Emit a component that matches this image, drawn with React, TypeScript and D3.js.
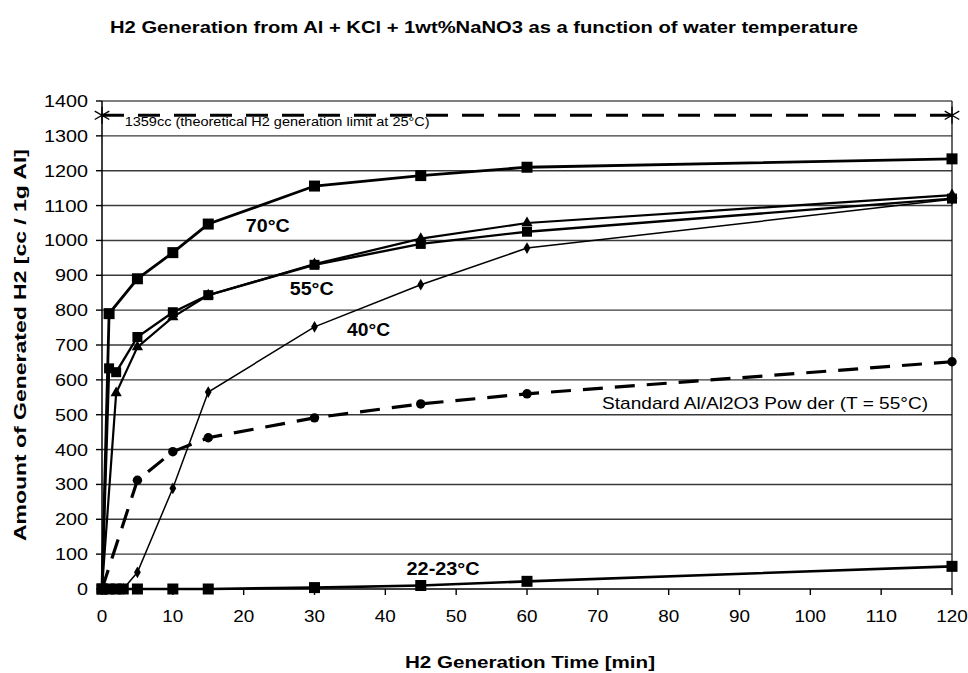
import React from "react";
import * as d3 from "d3";

const W = 968;
const H = 673;
const PL = 102, PR = 952, PT = 101, PB = 589;

const yTickValues = [0, 100, 200, 300, 400, 500, 600, 700, 800, 900, 1000, 1100, 1200, 1300, 1400];
const xTickValues = [0, 10, 20, 30, 40, 50, 60, 70, 80, 90, 100, 110, 120];

const title = "H2 Generation from Al + KCl + 1wt%NaNO3 as a function of water temperature";
const xTitle = "H2 Generation Time [min]";
const yTitle = "Amount of Generated H2 [cc / 1g Al]";

const t70 = [0, 1, 5, 10, 15, 30, 45, 60, 120];
const v70 = [0, 790, 890, 965, 1047, 1156, 1186, 1210, 1234];

const t55a = [0, 1, 2, 5, 10, 15, 30, 45, 60, 120];
const v55a = [0, 633, 622, 723, 794, 843, 930, 990, 1025, 1120];

const t55b = [0, 2, 5, 10, 15, 30, 45, 60, 120];
const v55b = [0, 562, 694, 780, 843, 932, 1005, 1050, 1130];

const t40 = [0, 3, 5, 10, 15, 30, 45, 60, 120];
const v40 = [0, 0, 48, 289, 565, 752, 873, 978, 1118];

const tStd = [0, 5, 10, 15, 30, 45, 60, 120];
const vStd = [0, 312, 394, 434, 491, 531, 560, 652];

const t22 = [0, 1, 2, 3, 5, 10, 15, 30, 45, 60, 120];
const v22 = [0, 0, 0, 0, 0, 0, 0, 4, 10, 22, 65];

const tLim = [0, 120];
const vLim = [1359, 1359];

const labels = [
  { text: "70°C", t: 20.3, v: 1025, bold: true, len: 44, size: 19 },
  { text: "55°C", t: 26.5, v: 843, bold: true, len: 44, size: 19 },
  { text: "40°C", t: 34.6, v: 725, bold: true, len: 43, size: 18 },
  { text: "Standard Al/Al2O3 Pow der (T = 55°C)", t: 70.6, v: 516, bold: false, len: 326, size: 17 },
  { text: "22-23°C", t: 43, v: 40, bold: true, len: 73, size: 18 },
  { text: "1359cc (theoretical H2 generation limit at 25°C)", t: 3.2, v: 1327, bold: false, len: 305, size: 12 },
];

const x = d3.scaleLinear().domain([0, 120]).range([PL, PR]);
const y = d3.scaleLinear().domain([0, 1400]).range([PB, PT]);

const zip = (ts: number[], vs: number[]) => ts.map((t, i) => [t, vs[i]] as [number, number]);
const line = d3.line<[number, number]>().x((d) => x(d[0])).y((d) => y(d[1]));

const FONT = "Liberation Sans, Arial, Helvetica, sans-serif";

function Squares({ data, size }: { data: [number, number][]; size: number }) {
  return (
    <g>
      {data.map((d, i) => (
        <rect key={i} x={x(d[0]) - size / 2} y={y(d[1]) - size / 2} width={size} height={size} fill="#000" />
      ))}
    </g>
  );
}

function Symbols({ data, type, size, fill = "#000", stroke = "none", sw = 0 }: any) {
  const p = d3.symbol().type(type).size(size)() as string;
  return (
    <g>
      {data.map((d: [number, number], i: number) => (
        <path key={i} d={p} transform={`translate(${x(d[0])},${y(d[1])})`} fill={fill} stroke={stroke} strokeWidth={sw} />
      ))}
    </g>
  );
}

export default function App() {
  const d70 = zip(t70, v70);
  const d55a = zip(t55a, v55a);
  const d55b = zip(t55b, v55b);
  const d40 = zip(t40, v40);
  const dStd = zip(tStd, vStd);
  const d22 = zip(t22, v22);
  const dLim = zip(tLim, vLim);

  return (
    <div style={{ position: "absolute", left: 0, top: 0 }}>
      <svg width={W} height={H} style={{ display: "block", background: "#fff" }} fontFamily={FONT}>
        <rect x={0} y={0} width={W} height={H} fill="#fff" />
        {/* title */}
        <text x={484} y={33} textAnchor="middle" fontSize={16} fontWeight="bold" textLength={748} lengthAdjust="spacingAndGlyphs">
          {title}
        </text>

        {/* gridlines */}
        {yTickValues.filter((v) => v > 0).map((v) => (
          <line key={v} x1={PL} x2={PR} y1={y(v)} y2={y(v)} stroke={v === 1400 ? "#000" : "#3a3a3a"} strokeWidth={v === 1400 ? 1.2 : 1.4} />
        ))}
        {/* right border */}
        <line x1={PR} x2={PR} y1={PT} y2={PB} stroke="#000" strokeWidth={1.2} />

        {/* y axis */}
        <line x1={PL} x2={PL} y1={PT} y2={PB + 0.5} stroke="#000" strokeWidth={1.5} />
        {yTickValues.map((v) => (
          <g key={v}>
            <line x1={PL - 6} x2={PL} y1={y(v)} y2={y(v)} stroke="#000" strokeWidth={1.4} />
            <text x={88} y={y(v) + 6} textAnchor="end" fontSize={17} textLength={String(v).length * 11} lengthAdjust="spacingAndGlyphs">
              {v}
            </text>
          </g>
        ))}

        {/* x axis */}
        <line x1={PL} x2={PR} y1={PB} y2={PB} stroke="#000" strokeWidth={1.5} />
        {xTickValues.map((v) => (
          <g key={v}>
            <line x1={x(v)} x2={x(v)} y1={PB} y2={PB + 6} stroke="#000" strokeWidth={1.4} />
            <text x={x(v)} y={PB + 33} textAnchor="middle" fontSize={17} textLength={String(v).length * 10.5} lengthAdjust="spacingAndGlyphs">
              {v}
            </text>
          </g>
        ))}

        {/* axis titles */}
        <text x={530} y={668} textAnchor="middle" fontSize={16} fontWeight="bold" textLength={250} lengthAdjust="spacingAndGlyphs">
          {xTitle}
        </text>
        <text transform={`translate(26,345) rotate(-90)`} textAnchor="middle" fontSize={16} fontWeight="bold" textLength={392} lengthAdjust="spacingAndGlyphs">
          {yTitle}
        </text>

        {/* theoretical limit */}
        <path d={line(dLim) as string} fill="none" stroke="#000" strokeWidth={3} strokeDasharray="22 14" />
        <Symbols data={dLim} type={d3.symbolAsterisk} size={200} fill="none" stroke="#000" sw={1.3} />

        {/* standard powder */}
        <path d={line(dStd) as string} fill="none" stroke="#000" strokeWidth={3.2} strokeDasharray="20 12" />
        <Symbols data={dStd} type={d3.symbolCircle} size={70} />

        {/* 22-23 */}
        <path d={line(d22) as string} fill="none" stroke="#000" strokeWidth={2.6} />
        <Squares data={d22} size={11} />

        {/* 40 */}
        <path d={line(d40) as string} fill="none" stroke="#000" strokeWidth={1.5} />
        <Symbols data={d40} type={d3.symbolDiamond} size={40} />

        {/* 55 b */}
        <path d={line(d55b) as string} fill="none" stroke="#000" strokeWidth={2.2} />
        <Symbols data={d55b} type={d3.symbolTriangle} size={55} />

        {/* 55 a */}
        <path d={line(d55a) as string} fill="none" stroke="#000" strokeWidth={2.4} />
        <Squares data={d55a} size={10} />

        {/* 70 */}
        <path d={line(d70) as string} fill="none" stroke="#000" strokeWidth={2.8} />
        <Squares data={d70} size={11} />

        {/* annotations */}
        {labels.map((l, i) => (
          <text key={i} x={x(l.t)} y={y(l.v)} fontSize={l.size} fontWeight={l.bold ? "bold" : "normal"} textLength={l.len} lengthAdjust="spacingAndGlyphs">
            {l.text}
          </text>
        ))}
      </svg>
    </div>
  );
}
